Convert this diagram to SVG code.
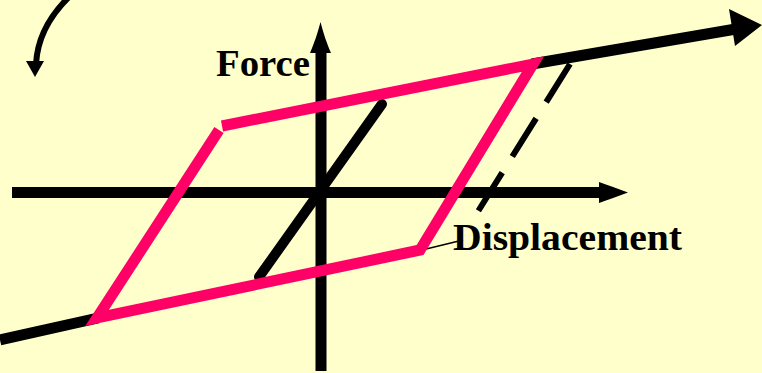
<svg xmlns="http://www.w3.org/2000/svg" width="762" height="373" viewBox="0 0 762 373">
  <style>
    .axis { stroke: #000; stroke-width: 11; fill: none; }
    .blk { stroke: #000; fill: none; }
    .loop { stroke: #FF0066; stroke-width: 11; fill: none; stroke-linejoin: miter; }
    .lbl { font-family: "Liberation Serif", "Times New Roman", serif; font-weight: bold; font-size: 38px; fill: #000; }
  </style>
  <rect x="0" y="0" width="762" height="373" fill="#FFFFCC"/>

  <g id="curved-arrow">
    <path class="blk" d="M68,-2 Q38,28 36,64" stroke-width="6"/>
    <path d="M26,61 L44,61 L35,77 Z" fill="#000"/>
  </g>

  <g id="axes">
    <line class="axis" x1="12" y1="192.5" x2="604" y2="192.5"/>
    <path d="M628,192.5 C618,189 608,185 599,182 L599,203 C608,200 618,196 628,192.5 Z" fill="#000"/>
    <line class="axis" x1="321" y1="371" x2="321" y2="49"/>
    <path d="M320.5,22 C323,32 327,44 331,53 L310,53 C314,44 318,32 320.5,22 Z" fill="#000"/>
  </g>

  <g id="connectors">
    <line class="blk" x1="382" y1="104" x2="259" y2="277" stroke-width="10" stroke-linecap="round"/>
    <line class="blk" x1="570" y1="64" x2="477" y2="213" stroke-width="6" stroke-dasharray="45 19"/>
    <line class="blk" x1="0" y1="340" x2="98" y2="318" stroke-width="11"/>
    <line class="blk" x1="532" y1="64" x2="736" y2="29" stroke-width="11"/>
    <path d="M762,25 L729,9 L735,46 Z" fill="#000"/>
    <line class="blk" x1="422" y1="250" x2="463" y2="240" stroke-width="1.6"/>
  </g>

  <g id="loop">
    <path class="loop" d="M222,126 L533,64 L420,250 L97,318 L219,130"/>
  </g>

  <g id="label-force">
    <text class="lbl" x="216" y="76" textLength="94" lengthAdjust="spacingAndGlyphs">Force</text>
  </g>
  <g id="label-displacement">
    <text class="lbl" x="453" y="250" textLength="229" lengthAdjust="spacingAndGlyphs">Displacement</text>
  </g>
</svg>
